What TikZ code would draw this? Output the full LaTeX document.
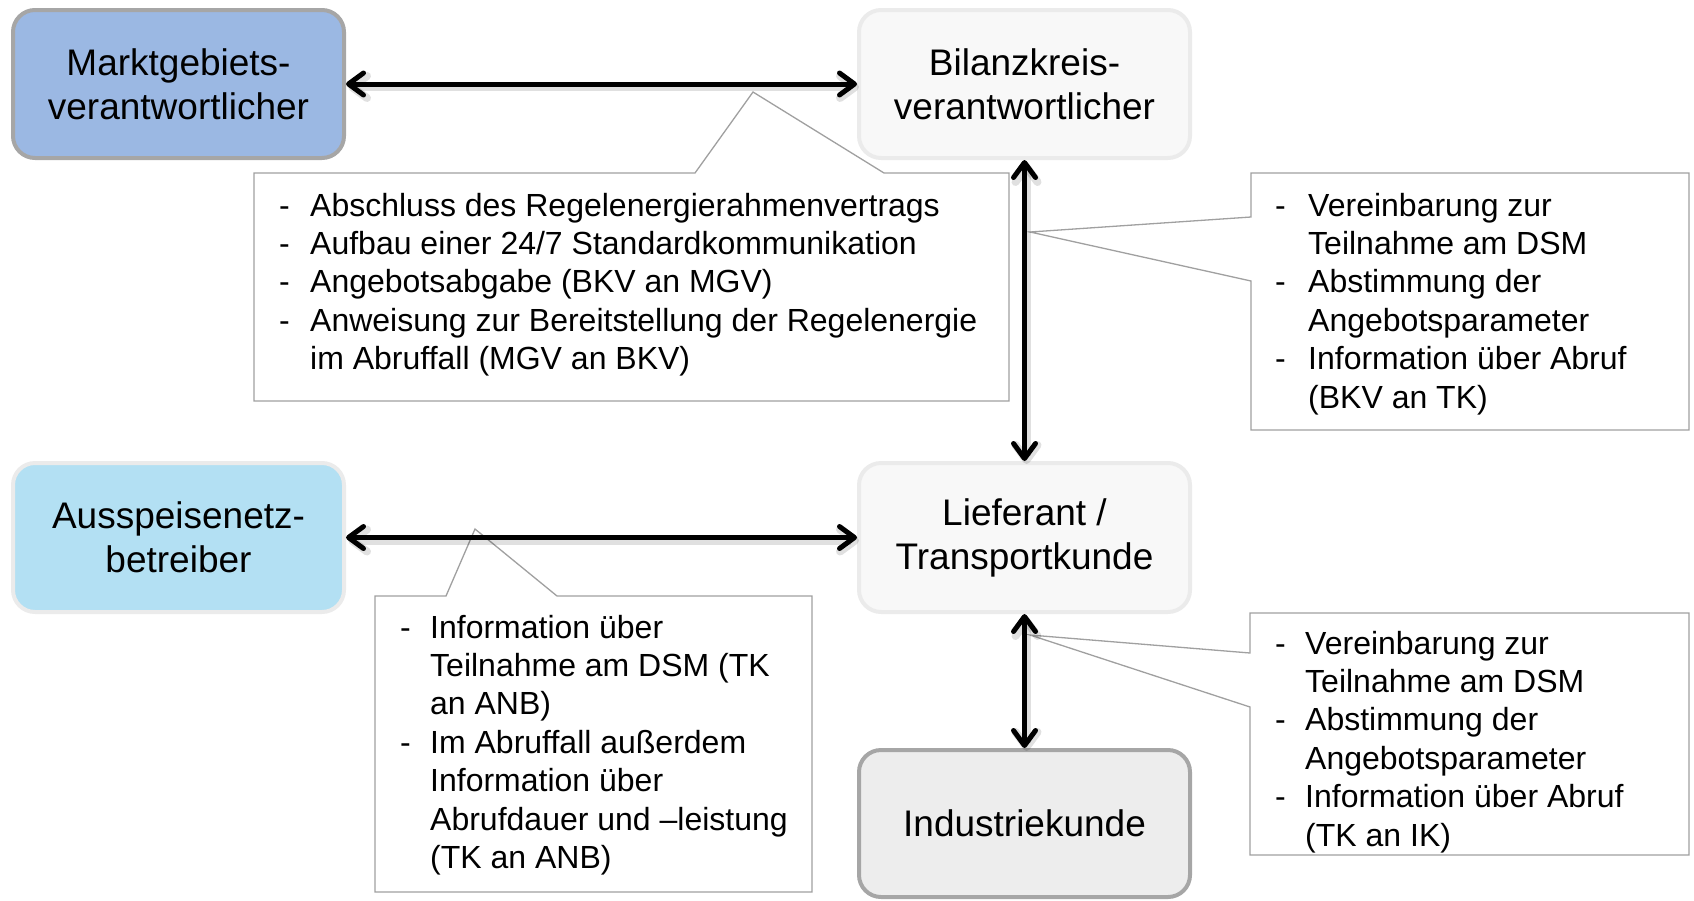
\documentclass[tikz,border=0pt]{standalone}
\usepackage{fontspec}
\setmainfont{Liberation Sans}
\usetikzlibrary{arrows.meta}
\definecolor{mgvfill}{HTML}{9BB8E3}
\definecolor{anbfill}{HTML}{B3E0F3}
\definecolor{lightfill}{HTML}{F8F8F8}
\definecolor{ikfill}{HTML}{EDEDED}
\definecolor{darkborder}{HTML}{A6A6A6}
\definecolor{lightborder}{HTML}{EBEBEB}
\definecolor{callborder}{HTML}{A0A0A0}
\tikzset{
  actor/.style={rounded corners=22pt, minimum width=331pt, minimum height=148pt, line width=4pt,
    align=center, font=\fontsize{37}{44}\selectfont, inner sep=0pt},
  callout/.style={draw=callborder, line width=1.3pt, fill=white},
  calltext/.style={anchor=base west, align=left, font=\fontsize{32}{38.4}\selectfont, inner sep=0pt},
  link/.style={line width=5pt, {Straight Barb[length=15pt,width=22pt,round]}-{Straight Barb[length=15pt,width=22pt,round]}},
  linkshadow/.style={link, draw=black, draw opacity=0.12, line width=8pt, transform canvas={shift={(2pt,-3pt)}}},
}
\newcommand{\bul}[1]{\makebox[#1][l]{-}}
\begin{document}
\begin{tikzpicture}[x=1pt,y=-1pt]
\useasboundingbox (0,0) rectangle (1694,900);
% actors
\node[actor, draw=darkborder, fill=mgvfill] (mgv) at (178.5,84) {Marktgebiets-\\verantwortlicher};
\node[actor, draw=lightborder, fill=lightfill] (bkv) at (1024.5,84) {Bilanzkreis-\\verantwortlicher};
\node[actor, draw=lightborder, fill=anbfill, minimum height=149pt] (anb) at (178.5,537.5) {Ausspeisenetz-\\betreiber};
\node[actor, draw=lightborder, fill=lightfill, minimum height=149pt] (ltk) at (1024.5,537.5) {Lieferant /\\Transportkunde};
\node[actor, draw=darkborder, fill=ikfill, minimum height=147pt] (ik) at (1024.5,823.5) {Industriekunde};
% callout 1
\coordinate (t1) at (753,92);
\draw[callout] (254,173) -- (695,173) -- (t1) -- (884,173) -- (1009,173) -- (1009,401) -- (254,401) -- cycle;
\node[calltext] (c1) at (279,369.6) {\bul{31pt}Abschluss des Regelenergierahmenvertrags\\
\bul{31pt}Aufbau einer 24/7 Standardkommunikation\\
\bul{31pt}Angebotsabgabe (BKV an MGV)\\
\bul{31pt}Anweisung zur Bereitstellung der Regelenergie\\
\hspace*{31pt}im Abruffall (MGV an BKV)};
% callout 2
\coordinate (t2) at (1030,232);
\draw[callout] (1251,173) -- (1689,173) -- (1689,430) -- (1251,430) -- (1251,281) -- (t2) -- (1251,217) -- cycle;
\node[calltext] (c2) at (1275,408) {\bul{33pt}Vereinbarung zur\\
\hspace*{33pt}Teilnahme am DSM\\
\bul{33pt}Abstimmung der\\
\hspace*{33pt}Angebotsparameter\\
\bul{33pt}Information über Abruf\\
\hspace*{33pt}(BKV an TK)};
% callout 3
\coordinate (t3) at (475,529);
\draw[callout] (375,596) -- (446,596) -- (t3) -- (557,596) -- (812,596) -- (812,892) -- (375,892) -- cycle;
\node[calltext] (c3) at (400,868.4) {\bul{30pt}Information über\\
\hspace*{30pt}Teilnahme am DSM (TK\\
\hspace*{30pt}an ANB)\\
\bul{30pt}Im Abruffall außerdem\\
\hspace*{30pt}Information über\\
\hspace*{30pt}Abrufdauer und –leistung\\
\hspace*{30pt}(TK an ANB)};
% callout 4
\coordinate (t4) at (1030,635);
\draw[callout] (1250,613) -- (1689,613) -- (1689,855) -- (1250,855) -- (1250,707) -- (t4) -- (1250,653) -- cycle;
\node[calltext] (c4) at (1275,846) {\bul{30pt}Vereinbarung zur\\
\hspace*{30pt}Teilnahme am DSM\\
\bul{30pt}Abstimmung der\\
\hspace*{30pt}Angebotsparameter\\
\bul{30pt}Information über Abruf\\
\hspace*{30pt}(TK an IK)};
% connectors
\draw[linkshadow] (mgv.east) -- (bkv.west);
\draw[linkshadow] (bkv.south) -- (ltk.north);
\draw[linkshadow] (anb.east) -- (ltk.west);
\draw[linkshadow] (ltk.south) -- (ik.north);
\draw[link] (mgv.east) -- (bkv.west);
\draw[link] (bkv.south) -- (ltk.north);
\draw[link] (anb.east) -- (ltk.west);
\draw[link] (ltk.south) -- (ik.north);
\end{tikzpicture}
\end{document}
